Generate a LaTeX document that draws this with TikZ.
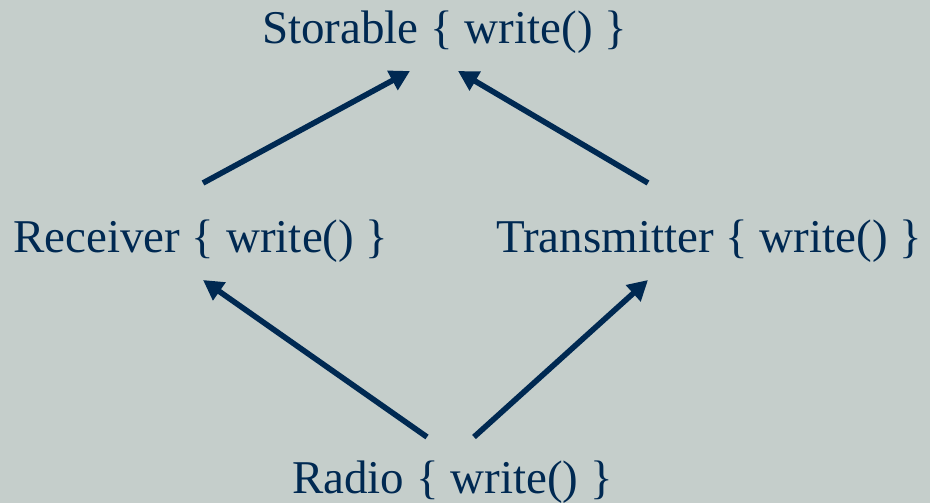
\documentclass[tikz,border=0pt]{standalone}
\usepackage{fontspec}
\setmainfont{Liberation Serif}
\usetikzlibrary{arrows.meta}
\definecolor{bg}{RGB}{197,206,203}
\definecolor{ink}{RGB}{0,41,82}
\begin{document}
\begin{tikzpicture}[x=1pt,y=-1pt,
  lbl/.style={anchor=base west,inner sep=0pt,text=ink,font=\fontsize{47}{56}\selectfont},
  inh/.style={draw=ink,line width=5.6pt,-{Triangle[length=20pt,width=21pt]}}]
\fill[bg] (0,0) rectangle (930,503);
\useasboundingbox (0,0) rectangle (930,503);
\node[lbl] (sto) at (262,44) {Storable \{ write() \}};
\node[lbl] (rec) at (13,252) {Receiver \{ write() \}};
\node[lbl] (tra) at (496,252) {Transmitter \{ write() \}};
\node[lbl] (rad) at (292,493) {Radio \{ write() \}};
\coordinate (recUp) at (203,183);
\coordinate (traUp) at (648,183);
\coordinate (stoL) at (410,71);
\coordinate (stoR) at (458,71);
\coordinate (recDn) at (203,280);
\coordinate (traDn) at (648,280);
\coordinate (radL) at (427,437);
\coordinate (radR) at (474,437);
\draw[inh] (recUp) -- (stoL);
\draw[inh] (traUp) -- (stoR);
\draw[inh] (radL) -- (recDn);
\draw[inh] (radR) -- (traDn);
\end{tikzpicture}
\end{document}
